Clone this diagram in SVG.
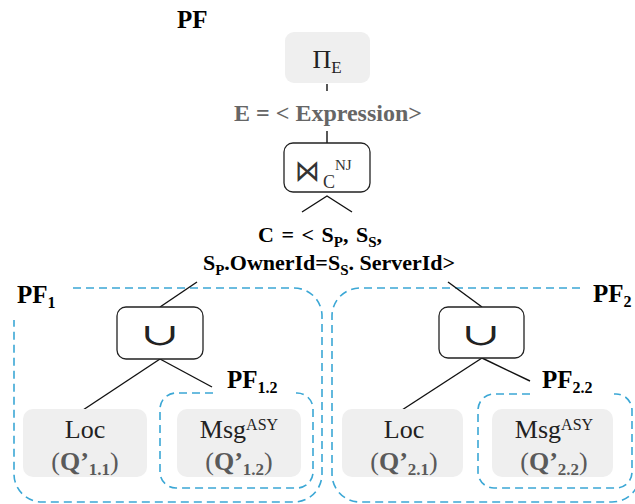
<svg xmlns="http://www.w3.org/2000/svg" width="635" height="504" viewBox="0 0 635 504">
  <style>
    .serif { font-family: "Liberation Serif", "Times New Roman", serif; }
    .math { font-family: "DejaVu Serif", "DejaVu Sans", serif; }
    .lbl { font-family: "Liberation Serif", serif; font-weight: bold; font-size: 25px; fill: #000; }
    .cond { font-family: "Liberation Serif", serif; font-weight: bold; font-size: 22px; fill: #000; }
    .expr { font-family: "Liberation Serif", serif; font-weight: bold; font-size: 24px; fill: #666; }
    .leaf { fill: #efefef; stroke: none; }
    .op { fill: #fff; stroke: #222; stroke-width: 1.3; }
    .edge { stroke: #111; stroke-width: 1.4; fill: none; }
    .frag { fill: none; stroke: #3ba7d5; stroke-width: 1.6; stroke-dasharray: 8 5; }
    .name { font-family: "Liberation Serif", serif; font-size: 26px; fill: #222; }
    .q { font-family: "Liberation Serif", serif; font-size: 26px; fill: #5a5a5a; }
  </style>

  <!-- fragment outlines -->
  <g id="fragments">
    <path class="frag" d="M73,288 H294 A28,28 0 0 1 322,316 V474 A28,28 0 0 1 294,502 H42 A28,28 0 0 1 14,474 V320"/>
    <path class="frag" d="M580,288 H360 A28,28 0 0 0 332,316 V474 A28,28 0 0 0 360,502 H612 A28,28 0 0 0 640,474"/>
    <path class="frag" d="M213,393 H176 A16,16 0 0 0 160,409 V472 A16,16 0 0 0 176,488 H297 A16,16 0 0 0 313,472 V409 A16,16 0 0 0 297,393 H296"/>
    <path class="frag" d="M530,394 H494 A16,16 0 0 0 478,410 V472 A16,16 0 0 0 494,488 H616 A16,16 0 0 0 632,472 V410 A16,16 0 0 0 616,394 H614"/>
  </g>

  <!-- connectors -->
  <g id="connectors">
    <line class="edge" x1="327" y1="84" x2="327" y2="91"/>
    <line class="edge" x1="327" y1="131" x2="327" y2="143"/>
    <polyline class="edge" points="302,212 327,196 352,212"/>
    <line class="edge" x1="197" y1="282" x2="160" y2="307"/>
    <line class="edge" x1="448" y1="282" x2="482" y2="307"/>
    <line class="edge" x1="160" y1="359" x2="83" y2="410"/>
    <line class="edge" x1="160" y1="359" x2="212" y2="387"/>
    <line class="edge" x1="482" y1="358" x2="402" y2="410"/>
    <line class="edge" x1="482" y1="358" x2="530" y2="381"/>
  </g>

  <!-- labels -->
  <g id="labels">
    <text class="lbl" x="177" y="28">PF</text>
    <text class="lbl" x="17" y="303">PF<tspan font-size="16" dy="5">1</tspan></text>
    <text class="lbl" x="593" y="302">PF<tspan font-size="16" dy="5">2</tspan></text>
    <text class="lbl" x="227" y="388">PF<tspan font-size="16" dy="5">1.2</tspan></text>
    <text class="lbl" x="542" y="388">PF<tspan font-size="16" dy="5">2.2</tspan></text>
    <text class="expr" x="328" y="121" text-anchor="middle">E = &lt; Expression&gt;</text>
    <text class="cond" x="320" y="242" text-anchor="middle" word-spacing="2">C = &lt; S<tspan font-size="15" dy="5">P</tspan><tspan dy="-5">, S</tspan><tspan font-size="15" dy="5">S</tspan><tspan dy="-5">,</tspan></text>
    <text class="cond" x="329" y="270" text-anchor="middle">S<tspan font-size="15" dy="5">P</tspan><tspan dy="-5">.OwnerId=S</tspan><tspan font-size="15" dy="5">S</tspan><tspan dy="-5">. ServerId&gt;</tspan></text>
  </g>

  <!-- projection -->
  <g id="project">
    <rect class="leaf" x="285" y="32" width="85" height="51" rx="9"/>
    <text class="serif" x="327" y="68" text-anchor="middle" font-size="26" fill="#222">Π<tspan font-size="17" dy="5">E</tspan></text>
  </g>

  <!-- join -->
  <g id="join">
    <rect class="op" x="284" y="143" width="86" height="49" rx="9"/>
    <text class="math" transform="translate(295,181) scale(1,1.2)" font-size="25" fill="#333">⋈</text>
    <text class="serif" x="323" y="188" font-size="18" fill="#333">C</text>
    <text class="serif" x="335" y="170" font-size="15" fill="#333">NJ</text>
  </g>

  <!-- unions -->
  <g id="union1">
    <rect class="op" x="117" y="307" width="86" height="52" rx="9"/>
    <text class="math" transform="translate(160,345) scale(1.05,0.7)" text-anchor="middle" font-size="44" fill="#222">∪</text>
  </g>
  <g id="union2">
    <rect class="op" x="439" y="307" width="85" height="51" rx="9"/>
    <text class="math" transform="translate(481,345) scale(1.05,0.7)" text-anchor="middle" font-size="44" fill="#222">∪</text>
  </g>

  <!-- leaf fragments -->
  <g id="loc1">
    <rect class="leaf" x="23" y="409" width="124" height="68" rx="10"/>
    <text class="name" x="85" y="438" text-anchor="middle">Loc</text>
    <text class="q" x="85" y="470" text-anchor="middle">(<tspan font-weight="bold">Q’</tspan><tspan font-weight="bold" font-size="17" dy="5">1.1</tspan><tspan dy="-5">)</tspan></text>
  </g>
  <g id="msg1">
    <rect class="leaf" x="177" y="409" width="124" height="68" rx="10"/>
    <text class="name" x="239" y="438" text-anchor="middle">Msg<tspan font-size="16" dy="-8">ASY</tspan></text>
    <text class="q" x="239" y="470" text-anchor="middle">(<tspan font-weight="bold">Q’</tspan><tspan font-weight="bold" font-size="17" dy="5">1.2</tspan><tspan dy="-5">)</tspan></text>
  </g>
  <g id="loc2">
    <rect class="leaf" x="342" y="409" width="121" height="68" rx="10"/>
    <text class="name" x="404" y="438" text-anchor="middle">Loc</text>
    <text class="q" x="404" y="470" text-anchor="middle">(<tspan font-weight="bold">Q’</tspan><tspan font-weight="bold" font-size="17" dy="5">2.1</tspan><tspan dy="-5">)</tspan></text>
  </g>
  <g id="msg2">
    <rect class="leaf" x="492" y="409" width="121" height="68" rx="10"/>
    <text class="name" x="554" y="438" text-anchor="middle">Msg<tspan font-size="16" dy="-8">ASY</tspan></text>
    <text class="q" x="554" y="470" text-anchor="middle">(<tspan font-weight="bold">Q’</tspan><tspan font-weight="bold" font-size="17" dy="5">2.2</tspan><tspan dy="-5">)</tspan></text>
  </g>
</svg>
